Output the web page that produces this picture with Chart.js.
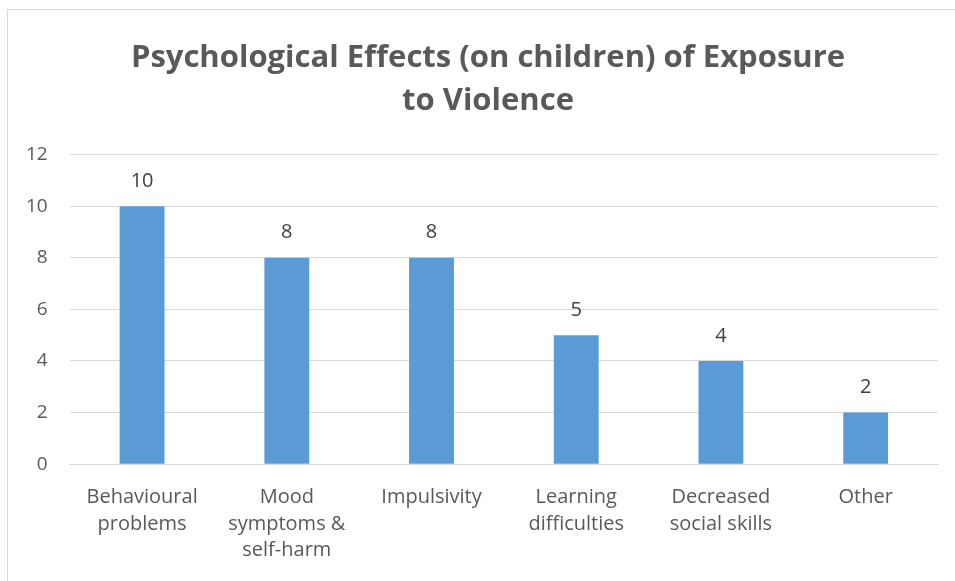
<!DOCTYPE html>
<html>
<head>
<meta charset="utf-8">
<script src="https://cdn.jsdelivr.net/npm/chart.js@4"></script>
<style>
  html, body { margin: 0; padding: 0; background: #fff; }
  #wrap { position: relative; width: 955px; height: 581px; overflow: hidden; }
  #frame { position: absolute; left: 7px; top: 9px; width: 1000px; height: 700px; border: 1px solid #d9d9d9; }
  canvas { position: absolute; left: 0; top: 0; }
</style>
</head>
<body>
<div id="wrap">
  <div id="frame"></div>
  <canvas id="chart" width="955" height="581"></canvas>
</div>
<script>
const categories = [
  ['Behavioural', 'problems'],
  ['Mood', 'symptoms &', 'self-harm'],
  ['Impulsivity'],
  ['Learning', 'difficulties'],
  ['Decreased', 'social skills'],
  ['Other']
];
const counts = [10, 8, 8, 5, 4, 2];
const yTicks = [0, 2, 4, 6, 8, 10, 12];
const titleLines = ['Psychological Effects (on children) of Exposure', 'to Violence'];

const FONT = "'Open Sans', 'Noto Sans', sans-serif";

// draw value labels above each bar
const valueLabels = {
  id: 'valueLabels',
  afterLayout(chart) {
    // title sits a little right of centre in the original
    if (chart.titleBlock) {
      chart.titleBlock.left += 17;
      chart.titleBlock.right += 17;
    }
  },
  afterDatasetsDraw(chart) {
    const ctx = chart.ctx;
    const meta = chart.getDatasetMeta(0);
    ctx.save();
    ctx.font = '20px ' + FONT;
    ctx.fillStyle = '#404040';
    ctx.textAlign = 'center';
    ctx.textBaseline = 'middle';
    meta.data.forEach((bar, i) => {
      ctx.fillText(String(counts[i]), bar.x, bar.y - 25);
    });
    ctx.restore();
  }
};

new Chart(document.getElementById('chart').getContext('2d'), {
  type: 'bar',
  data: {
    labels: categories,
    datasets: [{
      data: counts,
      backgroundColor: '#5B9BD5',
      borderWidth: 0,
      barPercentage: 0.62,
      categoryPercentage: 0.5
    }]
  },
  options: {
    responsive: false,
    animation: false,
    layout: { padding: { left: 4, right: 17, top: 37, bottom: -3 } },
    plugins: {
      legend: { display: false },
      tooltip: { enabled: false },
      title: {
        display: true,
        text: titleLines,
        color: '#595959',
        font: { family: FONT, size: 31, weight: 'bold', lineHeight: 1.38 },
        padding: { top: 0, bottom: 32 }
      }
    },
    scales: {
      x: {
        grid: { display: false, drawTicks: false },
        border: { display: true, color: '#d9d9d9', width: 1 },
        ticks: {
          color: '#595959',
          font: { family: FONT, size: 20, lineHeight: 1.33 },
          padding: 20,
          maxRotation: 0,
          autoSkip: false
        }
      },
      y: {
        min: 0,
        max: 12,
        afterBuildTicks(axis) { axis.ticks = yTicks.map(v => ({ value: v })); },
        grid: { color: '#d9d9d9', drawTicks: false },
        border: { display: false },
        ticks: {
          color: '#595959',
          font: { family: FONT, size: 19 },
          padding: 22
        }
      }
    }
  },
  plugins: [valueLabels]
});
</script>
</body>
</html>
